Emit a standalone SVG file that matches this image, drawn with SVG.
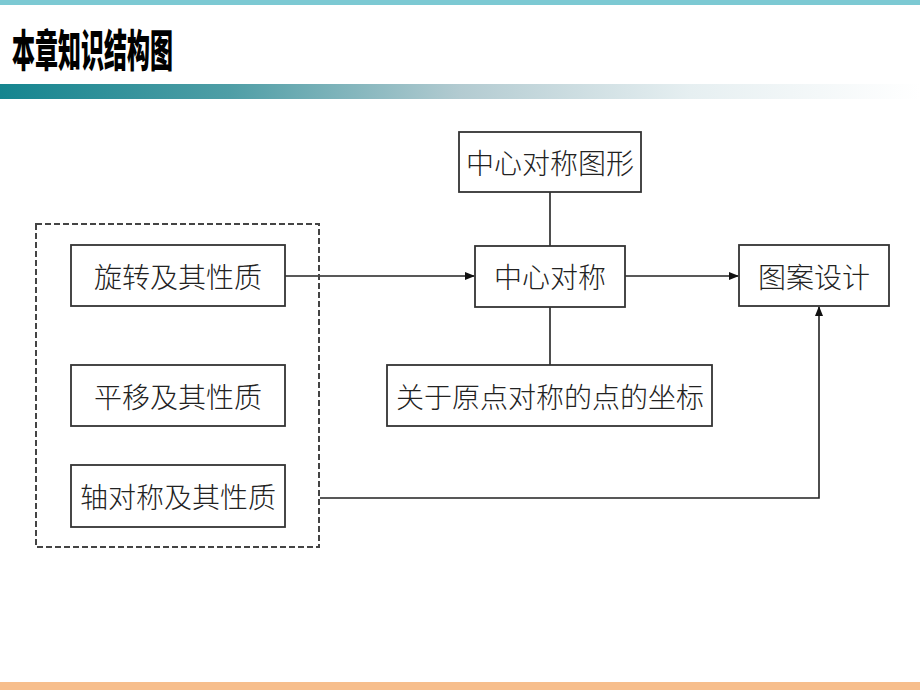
<svg xmlns="http://www.w3.org/2000/svg" width="920" height="690" viewBox="0 0 920 690">
<defs>
<linearGradient id="band" x1="0" y1="0" x2="1" y2="0">
<stop offset="0" stop-color="#15858f"/>
<stop offset="0.25" stop-color="#4f9ea6"/>
<stop offset="0.5" stop-color="#b3cbd1"/>
<stop offset="0.75" stop-color="#e6eff1"/>
<stop offset="1" stop-color="#ffffff"/>
</linearGradient>
<marker id="arr" markerWidth="10" markerHeight="8" refX="9" refY="4" orient="auto" markerUnits="userSpaceOnUse">
<path d="M0,0 L10,4 L0,8 Z" fill="#111"/>
</marker>
<style>
.box{fill:#fff;stroke:#333;stroke-width:1.8}
.lbl{font-family:"Noto Sans CJK SC","Noto Sans CJK JP",sans-serif;font-size:28px;fill:#222;text-anchor:middle;dominant-baseline:central;font-weight:300}
.ln{fill:none;stroke:#222;stroke-width:1.6}
</style>
</defs>
<rect x="0" y="0" width="920" height="690" fill="#fff"/>
<rect x="0" y="0" width="920" height="5" fill="#7cc9d3"/>
<text x="12" y="67" font-family="Noto Sans CJK SC, sans-serif" font-weight="900" font-size="44" fill="#000" textLength="161" lengthAdjust="spacingAndGlyphs">本章知识结构图</text>
<rect x="0" y="84" width="920" height="15" fill="url(#band)"/>
<rect x="0" y="682" width="920" height="8" fill="#f7be8c"/>

<g id="connectors">
<line class="ln" x1="285" y1="276" x2="474" y2="276" marker-end="url(#arr)"/>
<line class="ln" x1="625" y1="276" x2="738" y2="276" marker-end="url(#arr)"/>
<line class="ln" x1="550" y1="192" x2="550" y2="246"/>
<line class="ln" x1="550" y1="307" x2="550" y2="365"/>
<polyline class="ln" points="320,498 819,498 819,307" marker-end="url(#arr)"/>
</g>

<g id="group-left">
<rect x="36" y="224" width="283" height="323" fill="none" stroke="#444" stroke-width="2" stroke-dasharray="6,3"/>
</g>
<g id="n-xuanzhuan">
<rect class="box" x="71" y="245" width="214" height="61"/>
<text class="lbl" x="178" y="276">旋转及其性质</text>
</g>
<g id="n-pingyi">
<rect class="box" x="71" y="365" width="214" height="61"/>
<text class="lbl" x="178" y="396">平移及其性质</text>
</g>
<g id="n-zhouduichen">
<rect class="box" x="71" y="465" width="214" height="62"/>
<text class="lbl" x="178" y="496">轴对称及其性质</text>
</g>
<g id="n-zxdctx">
<rect class="box" x="459" y="132" width="182" height="60"/>
<text class="lbl" x="550" y="162">中心对称图形</text>
</g>
<g id="n-zxdc">
<rect class="box" x="475" y="246" width="150" height="61"/>
<text class="lbl" x="550" y="276">中心对称</text>
</g>
<g id="n-yuandian">
<rect class="box" x="387" y="365" width="325" height="61"/>
<text class="lbl" x="550" y="396">关于原点对称的点的坐标</text>
</g>
<g id="n-tuan">
<rect class="box" x="739" y="245" width="150" height="61"/>
<text class="lbl" x="814" y="276">图案设计</text>
</g>
</svg>
